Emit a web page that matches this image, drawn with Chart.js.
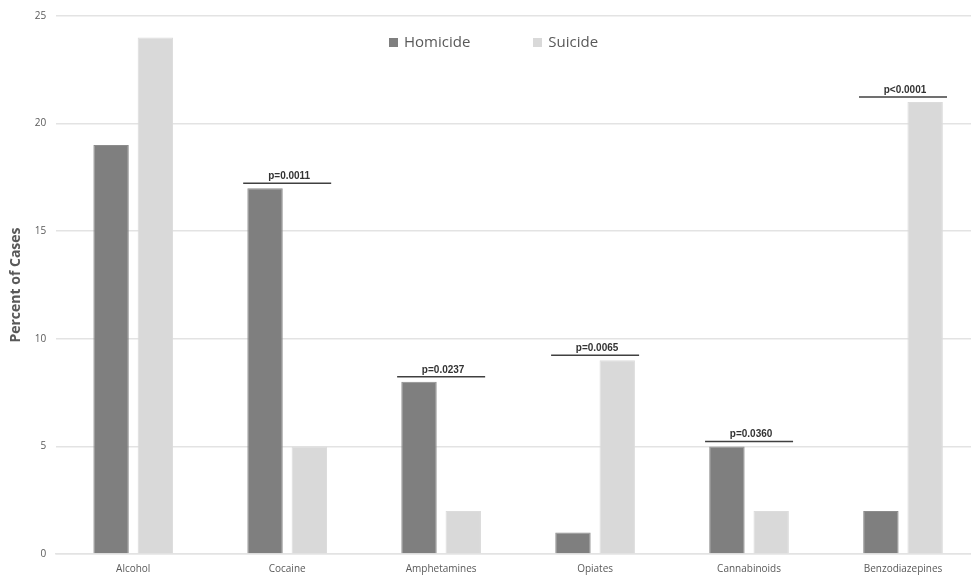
<!DOCTYPE html>
<html>

<head>
    <title>Substances Detected: Homicide vs Suicide</title>
    <style>
        body {
            margin: 0;
            overflow: hidden;
            background: #fff;
            font-family: "Open Sans", Arial, sans-serif;
        }

        .wrap {
            position: relative;
            width: 980px;
            height: 582px;
        }

        .legend {
            position: absolute;
            top: 31px;
            left: 389px;
            font-size: 15px;
            color: #595959;
            white-space: nowrap;
        }

        .legend span {
            display: inline-block;
            margin-right: 63px;
        }

        .legend i {
            display: inline-block;
            width: 9px;
            height: 9px;
            margin-right: 6px;
            vertical-align: 0px;
        }
    </style>
</head>

<body>
    <div class="wrap">
        <canvas id="bar-chart" width="980" height="582"></canvas>
        <div class="legend" id="legend"></div>
    </div>

    <script src="https://cdn.jsdelivr.net/npm/chart.js"></script>

    <script>
        const categories = ['Alcohol', 'Cocaine', 'Amphetamines', 'Opiates', 'Cannabinoids', 'Benzodiazepines'];
        const seriesNames = ['Homicide', 'Suicide'];
        const homicide = [19, 17, 8, 1, 5, 2];
        const suicide = [24, 5, 2, 9, 2, 21];
        const pValues = ['', 'p=0.0011', 'p=0.0237', 'p=0.0065', 'p=0.0360', 'p<0.0001'];
        const yTicks = [0, 5, 10, 15, 20, 25];
        const colors = ['#7f7f7f', '#d9d9d9'];

        // legend built from the dataset names/colours
        document.getElementById('legend').innerHTML = seriesNames
            .map((n, i) => '<span><i style="background:' + colors[i] + '"></i>' + n + '</span>')
            .join('');

        // significance bars over each pair
        const pValuePlugin = {
            id: 'pValues',
            afterDatasetsDraw(chart) {
                const ctx = chart.ctx;
                const x = chart.scales.x;
                const y = chart.scales.y;
                ctx.save();
                pValues.forEach((txt, i) => {
                    if (!txt) return;
                    const cx = x.getPixelForValue(i);
                    const top = y.getPixelForValue(Math.max(homicide[i], suicide[i])) - 5;
                    ctx.strokeStyle = '#404040';
                    ctx.lineWidth = 1.5;
                    ctx.beginPath();
                    ctx.moveTo(cx - 44, top);
                    ctx.lineTo(cx + 44, top);
                    ctx.stroke();
                    ctx.fillStyle = '#333';
                    ctx.font = 'bold 10px "Liberation Sans", Arial, sans-serif';
                    ctx.textAlign = 'center';
                    ctx.textBaseline = 'bottom';
                    ctx.fillText(txt, cx + 2, top - 2);
                });
                ctx.restore();
            }
        };

        new Chart(document.getElementById('bar-chart'), {
            type: 'bar',
            data: {
                labels: categories,
                datasets: [
                    {
                        label: seriesNames[0],
                        data: homicide,
                        backgroundColor: colors[0],
                        borderColor: '#8c8c8c',
                        borderWidth: 1,
                    },
                    {
                        label: seriesNames[1],
                        data: suicide,
                        backgroundColor: colors[1],
                        borderColor: '#dcdcdc',
                        borderWidth: 1,
                    },
                ],
            },
            plugins: [pValuePlugin],
            options: {
                responsive: false,
                animation: false,
                categoryPercentage: 0.575,
                barPercentage: 0.8,
                layout: {
                    padding: { top: 2, left: 8, right: 0, bottom: 6 },
                },
                scales: {
                    x: {
                        grid: { display: false },
                        border: { color: '#e3e3e3', width: 1.5 },
                        ticks: {
                            color: '#595959',
                            font: { size: 10, family: '"Open Sans", sans-serif' },
                            padding: 1,
                        },
                    },
                    y: {
                        min: 0,
                        max: 25,
                        afterBuildTicks(axis) {
                            axis.ticks = yTicks.map((v) => ({ value: v }));
                        },
                        grid: { color: '#e3e3e3', lineWidth: 1.5, drawTicks: false },
                        border: { display: false },
                        ticks: {
                            color: '#595959',
                            font: { size: 10, family: '"Open Sans", sans-serif' },
                            padding: 10,
                        },
                        title: {
                            display: true,
                            text: 'Percent of Cases',
                            color: '#595959',
                            font: { size: 14, weight: 'bold', family: '"Open Sans", sans-serif' },
                            padding: { top: 0, bottom: 0 },
                        },
                    },
                },
                plugins: {
                    legend: { display: false },
                    tooltip: { enabled: false },
                },
            },
        });
    </script>
</body>

</html>
